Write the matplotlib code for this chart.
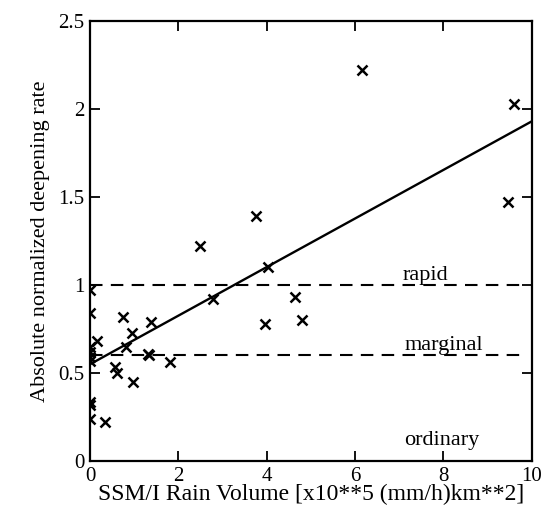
import numpy as np
import matplotlib
matplotlib.use("Agg")
import matplotlib.pyplot as plt

plt.rcParams["font.family"] = ["Liberation Serif", "DejaVu Serif"]

# rain volume [x10**5 (mm/h)km**2] and deepening rate
rain_volume = [
    0.0, 0.0, 0.0, 0.0, 0.0, 0.0, 0.0, 0.0, 0.0,
    0.15, 0.34, 0.74, 0.95, 1.38, 0.82, 1.31, 1.33, 1.81,
    0.57, 0.61, 0.97, 2.49, 2.78, 3.76, 4.03, 3.96,
    4.64, 4.79, 6.15, 9.6, 9.46,
]
deepening_rate = [
    0.97, 0.84, 0.65, 0.62, 0.59, 0.57, 0.335, 0.32, 0.24,
    0.68, 0.22, 0.82, 0.73, 0.79, 0.65, 0.61, 0.60, 0.56,
    0.535, 0.50, 0.45, 1.22, 0.92, 1.39, 1.10, 0.78,
    0.93, 0.80, 2.22, 2.03, 1.47,
]

# regression line: intercept, slope
fit_intercept = 0.55
fit_slope = 0.138

thresholds = [1.0, 0.6]
class_labels = ["rapid", "marginal", "ordinary"]
label_x = [7.6, 8.0, 7.95]
label_y = [1.03, 0.63, 0.09]

fig = plt.figure(figsize=(5.46, 5.12), dpi=100)
ax = fig.add_axes([0.165, 0.0996, 0.809, 0.8594])

ax.plot(rain_volume, deepening_rate, "x", color="black", markersize=7, mew=1.8)

xs = np.array([0, 10])
ax.plot(xs, fit_intercept + fit_slope * xs, color="black", lw=1.7)

for t in thresholds:
    ax.plot([0, 9.85], [t, t], color="black", lw=1.5, dashes=(6, 4))

for lab, lx, ly in zip(class_labels, label_x, label_y):
    ax.text(lx, ly, lab, ha="center", va="baseline", fontsize=16)

ax.set_xlim(0, 10)
ax.set_ylim(0, 2.5)
ax.set_xticks([0, 2, 4, 6, 8, 10])
ax.set_yticks([0, 0.5, 1, 1.5, 2, 2.5])
ax.set_yticklabels(["0", "0.5", "1", "1.5", "2", "2.5"])
ax.tick_params(direction="in", top=True, right=True, length=7, width=1.3,
               labelsize=15, pad=4)
for s in ax.spines.values():
    s.set_linewidth(1.6)

ax.set_xlabel("SSM/I Rain Volume [x10**5 (mm/h)km**2]", fontsize=17, labelpad=-1)
ax.set_ylabel("Absolute normalized deepening rate", fontsize=16, labelpad=6)

fig.savefig("out.png", dpi=100)
